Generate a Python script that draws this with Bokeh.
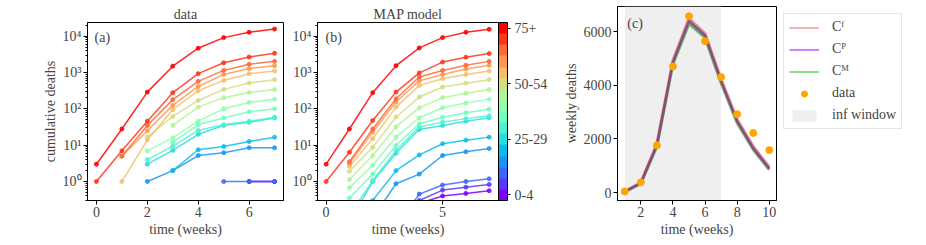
import math
from bokeh.plotting import figure
from bokeh.models import (Range1d, FixedTicker, ColorBar, LinearColorMapper, Label,
                          Legend, LegendItem, CustomJSTickFormatter)
from bokeh.layouts import row
from bokeh.embed import file_html
from bokeh.resources import INLINE

nan = float("nan")

# ---------------- data ----------------
age_groups = ["0-4", "5-9", "10-14", "15-19", "20-24", "25-29", "30-34", "35-39",
              "40-44", "45-49", "50-54", "55-59", "60-64", "65-69", "70-74", "75+"]
weeks = [0, 1, 2, 3, 4, 5, 6, 7]

# panel (a): observed cumulative deaths per age group (rows follow age_groups)
data_cumulative = [
    [nan, nan, nan, nan, nan, nan, 1, 1],
    [nan, nan, nan, nan, nan, nan, 1, 1],
    [nan, nan, nan, nan, nan, 1, 1, 1],
    [nan, nan, 1, 2, 5.2, 6.2, 8.5, 8.5],
    [nan, nan, nan, 2, 7.5, 9.2, 12.7, 16.6],
    [nan, nan, 3, 7.2, 20, 35, 43, 56],
    [nan, nan, 4, 9.4, 25.5, 37, 46, 59],
    [nan, nan, nan, 12.1, 37, 56, 83, 101],
    [nan, nan, 7, 16, 46, 101, 151, 185],
    [nan, nan, nan, 35, 112, 204, 285, 340],
    [nan, nan, 17, 62, 171, 345, 515, 640],
    [nan, 1, 14, 95, 317, 610, 935, 1100],
    [nan, 5, 25, 125, 415, 890, 1290, 1550],
    [nan, 5, 35, 180, 575, 1150, 1700, 2040],
    [1, 7, 46, 280, 935, 1870, 2700, 3400],
    [3, 28, 290, 1500, 4700, 9200, 12900, 15800],
]

# panel (b): MAP model cumulative deaths per age group
map_cumulative = [
    [nan, nan, nan, 0.01, 0.25, 0.4, 0.47, 0.56],
    [nan, nan, nan, 0.03, 0.3, 0.58, 0.7, 0.83],
    [nan, nan, nan, 0.06, 0.45, 0.8, 1.0, 1.19],
    [nan, 0.01, 0.1, 0.87, 1.6, 5.2, 6.6, 8.1],
    [nan, 0.02, 0.3, 2.0, 5.4, 11, 13.8, 16.7],
    [nan, 0.08, 1.0, 6.0, 27, 35, 46, 57],
    [nan, 0.12, 1.07, 7.2, 32, 43, 54, 65],
    [nan, 0.35, 1.6, 9.8, 39, 59, 78, 98],
    [nan, 0.67, 2.8, 16.7, 57, 108, 145, 186],
    [nan, 1.13, 5.2, 32, 108, 204, 270, 340],
    [nan, 1.9, 8.8, 60, 212, 400, 510, 640],
    [nan, 2.6, 15, 112, 445, 680, 890, 1100],
    [nan, 3.1, 23, 155, 600, 890, 1250, 1590],
    [nan, 3.5, 28, 190, 760, 1150, 1600, 2040],
    [1, 6.4, 48, 290, 980, 1950, 2650, 3340],
    [3, 28, 280, 1550, 4800, 9200, 13000, 15600],
]

# panel (c): weekly deaths
weeks_c = [1, 2, 3, 4, 5, 6, 7, 8, 9, 10]
weekly_data = [40, 380, 1760, 4700, 6570, 5640, 4300, 2920, 2220, 1580]
model_CF = [35, 370, 1810, 4920, 6480, 5920, 4220, 2720, 1720, 940]
model_CP = [30, 350, 1760, 4850, 6390, 5850, 4150, 2650, 1650, 890]
model_CM = [25, 330, 1710, 4780, 6290, 5770, 4080, 2590, 1600, 850]
inf_window = [1, 7]

log_ticks = [1, 10, 100, 1000, 10000]
colorbar_ticks = [0, 5, 10, 15]

# ---------------- style helpers ----------------
FONT = "Liberation Serif"
FS = "14px"


def rainbow(x):
    r = min(1.0, abs(2 * x - 0.5))
    g = max(0.0, math.sin(math.pi * x))
    b = max(0.0, math.cos(math.pi * x / 2))
    return "#%02x%02x%02x" % (round(r * 255), round(g * 255), round(b * 255))


colors = [rainbow(i / 15) for i in range(16)]

sup_js = """
const e = Math.round(Math.log10(tick));
const s = {'-1':'\u207b\u00b9','0':'\u2070','1':'\u00b9','2':'\u00b2','3':'\u00b3','4':'\u2074','5':'\u2075'};
return '10' + s[String(e)];
"""


def style(p):
    p.xgrid.grid_line_color = None
    p.ygrid.grid_line_color = None
    p.outline_line_color = "black"
    p.outline_line_width = 1
    p.outline_line_alpha = 1
    p.background_fill_color = "white"
    for ax in p.axis:
        ax.major_label_text_font = FONT
        ax.major_label_text_font_size = FS
        ax.axis_label_text_font = FONT
        ax.axis_label_text_font_size = FS
        ax.axis_label_text_font_style = "normal"
        ax.major_tick_out = 4
        ax.major_tick_in = 0
        ax.minor_tick_out = 2
        ax.minor_tick_in = 0
        ax.major_label_standoff = 2
        ax.axis_label_standoff = 2
        ax.axis_line_color = "black"
        ax.major_tick_line_color = "black"
        ax.minor_tick_line_color = "black"


def log_minor():
    out = []
    for e in range(-1, 5):
        for k in range(2, 10):
            out.append(k * 10 ** e)
    return out


def place_log(xr, yr, fx, fy_from_top):
    x = xr.start + fx * (xr.end - xr.start)
    l0, l1 = math.log10(yr.start), math.log10(yr.end)
    y = 10 ** (l1 - fy_from_top * (l1 - l0))
    return x, y


def no_frame_align(p):
    try:
        p.frame_align = False
    except Exception:
        pass


H = 242

# ---------------- panel (a) ----------------
xa = Range1d(-0.35, 7.35)
ya = Range1d(0.3, 24000)
pA = figure(width=288, height=H, x_range=xa, y_range=ya, y_axis_type="log",
            output_backend="svg", toolbar_location=None,
            min_border_left=87, min_border_right=5, min_border_top=22, min_border_bottom=H - 200)
pA.title.text = "data"
pA.title.align = "center"
pA.title.text_font = FONT
pA.title.text_font_size = FS
pA.title.text_font_style = "normal"
pA.title.standoff = 2
for i in range(16):
    pA.line(weeks, data_cumulative[i], line_color=colors[i], line_width=1.5, line_alpha=0.85)
    pA.scatter(weeks, data_cumulative[i], size=4, color=colors[i], alpha=0.85)
pA.xaxis.ticker = FixedTicker(ticks=[0, 2, 4, 6])
pA.yaxis.ticker = FixedTicker(ticks=log_ticks, minor_ticks=log_minor())
pA.yaxis.formatter = CustomJSTickFormatter(code=sup_js)
pA.xaxis.axis_label = "time (weeks)"
pA.yaxis.axis_label = "cumulative deaths"
style(pA)
lx, ly = place_log(xa, ya, 7 / 196, 7 / 178)
pA.add_layout(Label(x=lx, y=ly, text="(a)", text_font=FONT, text_font_size=FS,
                    text_baseline="top", text_align="left"))

# ---------------- panel (b) ----------------
xb = Range1d(-0.37, 7.4)
yb = Range1d(0.3, 24000)
pB = figure(width=272, height=H, x_range=xb, y_range=yb, y_axis_type="log",
            output_backend="svg", toolbar_location=None,
            min_border_left=29, min_border_right=62, min_border_top=22, min_border_bottom=H - 200)
pB.title.text = "MAP model"
pB.title.align = "center"
pB.title.text_font = FONT
pB.title.text_font_size = FS
pB.title.text_font_style = "normal"
pB.title.standoff = 2
for i in range(16):
    pB.line(weeks, map_cumulative[i], line_color=colors[i], line_width=1.5, line_alpha=0.85)
    pB.scatter(weeks, map_cumulative[i], size=4, color=colors[i], alpha=0.85)
pB.xaxis.ticker = FixedTicker(ticks=[0, 5])
pB.yaxis.ticker = FixedTicker(ticks=log_ticks, minor_ticks=log_minor())
pB.yaxis.formatter = CustomJSTickFormatter(code=sup_js)
pB.xaxis.axis_label = "time (weeks)"
style(pB)
lx, ly = place_log(xb, yb, 8 / 181, 7 / 178)
pB.add_layout(Label(x=lx, y=ly, text="(b)", text_font=FONT, text_font_size=FS,
                    text_baseline="top", text_align="left"))

mapper = LinearColorMapper(palette=colors, low=-0.5, high=15.5)
cb = ColorBar(color_mapper=mapper, ticker=FixedTicker(ticks=colorbar_ticks),
              major_label_overrides={colorbar_ticks[k]: age_groups[colorbar_ticks[k]] for k in range(4)},
              width=9, padding=0, margin=5,
              major_tick_out=3, major_tick_in=0, major_tick_line_color="black",
              bar_line_color="black", label_standoff=4,
              major_label_text_font=FONT, major_label_text_font_size=FS,
              background_fill_alpha=0, border_line_color=None)
pB.add_layout(cb, "right")

# ---------------- panel (c) ----------------
xc = Range1d(0.55, 10.45)
yc = Range1d(-298, 6932)
pC = figure(width=221, height=H, x_range=xc, y_range=yc, title=None,
            output_backend="svg", toolbar_location=None,
            min_border_left=53, min_border_right=5, min_border_top=6, min_border_bottom=H - 200)
no_frame_align(pC)
shade = pC.quad(left=[inf_window[0]], right=[inf_window[1]], bottom=[yc.start], top=[yc.end],
                fill_color="#efefef", line_color=None)
pC.line(weeks_c, model_CM, line_color="#3faa3f", line_width=3, line_alpha=0.75)
pC.line(weeks_c, model_CF, line_color="#e06a6a", line_width=3, line_alpha=0.75)
pC.line(weeks_c, model_CP, line_color="#7a3e84", line_width=2.5, line_alpha=0.8)
pC.scatter(weeks_c, weekly_data, size=7, color="#ffa500")
pC.xaxis.ticker = FixedTicker(ticks=[2, 4, 6, 8, 10])
pC.yaxis.ticker = FixedTicker(ticks=[0, 2000, 4000, 6000])
pC.xaxis.axis_label = "time (weeks)"
pC.yaxis.axis_label = "weekly deaths"
style(pC)
pC.add_layout(Label(x=xc.start + 10 / 163 * (xc.end - xc.start),
                    y=yc.end - 9 / 194 * (yc.end - yc.start),
                    text="(c)", text_font=FONT, text_font_size=FS,
                    text_baseline="top", text_align="left"))

# ---------------- legend of panel (c), in its own small figure ----------------
# proxies use the same data, kept outside this figure's view so only the legend shows
pD = figure(width=140, height=H, x_range=Range1d(-1, 0), y_range=Range1d(-1, 0), title=None,
            output_backend="svg", toolbar_location=None,
            x_axis_location=None, y_axis_location=None,
            min_border_left=2, min_border_right=0, min_border_top=13, min_border_bottom=0)
no_frame_align(pD)
pD.xgrid.grid_line_color = None
pD.ygrid.grid_line_color = None
pD.outline_line_color = None
gF = pD.line(weeks_c, model_CF, line_color="#f09a9a", line_width=1.5)
gP = pD.line(weeks_c, model_CP, line_color="#bb5ce8", line_width=1.5)
gM = pD.line(weeks_c, model_CM, line_color="#5fd95f", line_width=1.5)
gD = pD.scatter(weeks_c, weekly_data, size=6, color="#ffa500")
gW = pD.quad(left=[inf_window[0]], right=[inf_window[1]], bottom=[yc.start], top=[yc.end],
             fill_color="#efefef", line_color=None)
legend = Legend(items=[LegendItem(label="C\u1da0", renderers=[gF]),
                       LegendItem(label="C\u1d3e", renderers=[gP]),
                       LegendItem(label="C\u1d39", renderers=[gM]),
                       LegendItem(label="data", renderers=[gD]),
                       LegendItem(label="inf window", renderers=[gW])],
                location="top_left", margin=0, padding=5, spacing=6,
                glyph_width=30, glyph_height=15, label_height=15, label_standoff=13,
                label_text_font=FONT, label_text_font_size=FS,
                border_line_color="#cccccc", border_line_width=1,
                background_fill_color="white", background_fill_alpha=1)
pD.add_layout(legend)

layout = row(pA, pB, pC, pD)
open("out.html", "w").write(file_html(layout, INLINE))
